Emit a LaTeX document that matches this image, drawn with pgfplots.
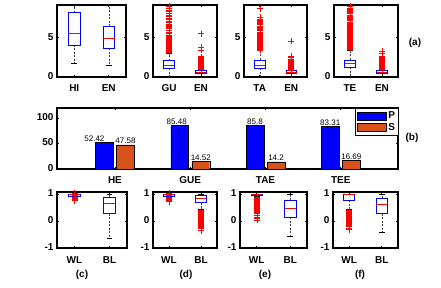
\documentclass[border=0pt]{standalone}
\usepackage{fontspec}
\setmainfont{Liberation Sans}
\usepackage{pgfplots}
\pgfplotsset{compat=1.18}
\usepgfplotslibrary{statistics}
\definecolor{mOrange}{rgb}{0.85,0.325,0.098}
\newcommand{\lf}{\bfseries\fontsize{10}{12}\selectfont}
\pgfplotsset{
  /pgf/number format/assume math mode=true,
  mframe/.style={
    scale only axis, anchor=south west,
    tick align=inside, major tick length=2pt,
    axis line style={line width=1.3pt},
    every tick/.style={black, line width=0.7pt},
    ticklabel style={font=\lf},
    typeset ticklabels with strut,
  },
  bxa/.style={mframe, xmin=0.5, xmax=2.5, xtick={1,2}},
  bxp/.style={
    mark=+, mark size=3pt, mark options={draw=red, line width=0.5pt, solid},
    boxplot/draw direction=y,
    boxplot/box extend=0.34,
    boxplot/whisker extend=0.17,
    boxplot/every box/.style={draw=blue, line width=0.6pt},
    boxplot/every median/.style={draw=red, line width=0.6pt},
    boxplot/draw/lower whisker/.code={%
      \draw[black!75, dash pattern=on 2pt off 1.5pt, line width=0.5pt]
        (boxplot box cs:\pgfplotsboxplotvalue{lower quartile},0.5) --
        (boxplot box cs:\pgfplotsboxplotvalue{lower whisker},0.5);
      \draw[black, line width=0.5pt]
        (boxplot whisker cs:\pgfplotsboxplotvalue{lower whisker},0) --
        (boxplot whisker cs:\pgfplotsboxplotvalue{lower whisker},1);
    },
    boxplot/draw/upper whisker/.code={%
      \draw[black!75, dash pattern=on 2pt off 1.5pt, line width=0.5pt]
        (boxplot box cs:\pgfplotsboxplotvalue{upper quartile},0.5) --
        (boxplot box cs:\pgfplotsboxplotvalue{upper whisker},0.5);
      \draw[black, line width=0.5pt]
        (boxplot whisker cs:\pgfplotsboxplotvalue{upper whisker},0) --
        (boxplot whisker cs:\pgfplotsboxplotvalue{upper whisker},1);
    },
  },
}
\begin{document}
\begin{tikzpicture}
\useasboundingbox (0,0) rectangle (441pt,287pt);
% ---------------- (a) row ----------------
\begin{axis}[bxa, at={(57pt,210pt)}, width=69pt, height=72pt,
  ymin=0, ymax=9.15, ytick={0,5}, xticklabels={HI,EN}, xticklabel style={yshift=-3pt}]
\addplot[bxp, boxplot prepared={draw position=1, lower whisker=1.77, lower quartile=4.08, median=5.55, upper quartile=8.16, upper whisker=9.1}] coordinates {};
\addplot[bxp, boxplot prepared={draw position=2, lower whisker=1.55, lower quartile=3.66, median=4.92, upper quartile=6.48, upper whisker=9.1}] coordinates {};
\end{axis}
\begin{axis}[bxa, at={(153pt,210pt)}, width=64pt, height=72pt,
  ymin=0, ymax=9.15, ytick={0,5}, xticklabels={GU,EN}, xticklabel style={yshift=-3pt}]
\addplot[bxp, boxplot prepared={draw position=1, lower whisker=0.1, lower quartile=1.14, median=1.47, upper quartile=2.06, upper whisker=3.05}]
 table[row sep=\\, y index=0]{v\\3.1\\3.15\\3.2\\3.25\\3.3\\3.35\\3.4\\3.45\\3.5\\3.55\\3.6\\3.65\\3.7\\3.75\\3.8\\3.85\\3.9\\3.95\\4.0\\4.05\\4.1\\4.15\\4.2\\4.25\\4.3\\4.35\\4.4\\4.45\\4.5\\4.55\\4.6\\4.65\\4.7\\4.8\\4.9\\5.0\\5.1\\5.2\\5.35\\5.5\\5.6\\5.75\\5.9\\6.0\\6.15\\6.3\\6.45\\6.6\\6.75\\6.9\\7.1\\7.3\\7.5\\7.7\\7.9\\8.1\\8.3\\8.5\\8.8\\9.0\\};
\addplot[bxp, boxplot prepared={draw position=2, lower whisker=0.05, lower quartile=0.5, median=0.62, upper quartile=0.85, upper whisker=0.95}]
 table[row sep=\\, y index=0]{v\\1.0\\1.05\\1.1\\1.15\\1.2\\1.25\\1.3\\1.35\\1.4\\1.45\\1.5\\1.55\\1.6\\1.65\\1.7\\1.75\\1.8\\1.85\\1.9\\1.95\\2.0\\2.05\\2.1\\2.2\\2.3\\2.4\\2.5\\2.6\\3.45\\3.75\\5.5\\};
\end{axis}
\begin{axis}[bxa, at={(244pt,210pt)}, width=63pt, height=72pt,
  ymin=0, ymax=9.15, ytick={0,5}, xticklabels={TA,EN}, xticklabel style={yshift=-3pt}]
\addplot[bxp, boxplot prepared={draw position=1, lower whisker=0.1, lower quartile=1.13, median=1.55, upper quartile=2.18, upper whisker=3.4}]
 table[row sep=\\, y index=0]{v\\3.45\\3.5\\3.55\\3.6\\3.65\\3.7\\3.75\\3.8\\3.85\\3.9\\3.95\\4.0\\4.05\\4.1\\4.15\\4.2\\4.25\\4.3\\4.35\\4.4\\4.45\\4.5\\4.55\\4.6\\4.65\\4.7\\4.8\\4.9\\5.0\\5.1\\5.2\\5.3\\5.45\\5.6\\5.75\\5.9\\6.05\\6.2\\6.35\\6.5\\6.65\\6.8\\6.95\\7.1\\7.25\\7.4\\7.55\\7.65\\8.7\\};
\addplot[bxp, boxplot prepared={draw position=2, lower whisker=0.05, lower quartile=0.5, median=0.6, upper quartile=0.8, upper whisker=0.88}]
 table[row sep=\\, y index=0]{v\\0.92\\0.97\\1.02\\1.07\\1.12\\1.17\\1.22\\1.27\\1.32\\1.37\\1.42\\1.47\\1.52\\1.57\\1.62\\1.67\\1.72\\1.77\\1.82\\1.87\\1.92\\1.97\\2.02\\2.07\\2.12\\2.2\\2.3\\2.45\\2.6\\2.7\\4.6\\};
\end{axis}
\begin{axis}[bxa, at={(334pt,210pt)}, width=64pt, height=72pt,
  ymin=0, ymax=9.15, ytick={0,5}, xticklabels={TE,EN}, xticklabel style={yshift=-3pt}]
\addplot[bxp, boxplot prepared={draw position=1, lower whisker=0.1, lower quartile=1.26, median=1.68, upper quartile=2.18, upper whisker=3.45}]
 table[row sep=\\, y index=0]{v\\3.5\\3.55\\3.6\\3.65\\3.7\\3.75\\3.8\\3.85\\3.9\\3.95\\4.0\\4.05\\4.1\\4.15\\4.2\\4.25\\4.3\\4.35\\4.4\\4.45\\4.5\\4.6\\4.7\\4.8\\4.9\\5.0\\5.1\\5.2\\5.3\\5.4\\5.5\\5.6\\5.7\\5.8\\5.9\\6.0\\6.1\\6.2\\6.3\\6.4\\6.5\\6.6\\6.7\\6.8\\6.9\\7.0\\7.15\\7.3\\7.45\\7.6\\7.75\\7.9\\8.05\\8.2\\8.35\\8.5\\8.65\\8.8\\9.0\\};
\addplot[bxp, boxplot prepared={draw position=2, lower whisker=0.05, lower quartile=0.5, median=0.6, upper quartile=0.8, upper whisker=0.9}]
 table[row sep=\\, y index=0]{v\\0.95\\1.0\\1.05\\1.1\\1.15\\1.2\\1.25\\1.3\\1.35\\1.4\\1.45\\1.5\\1.55\\1.6\\1.65\\1.7\\1.75\\1.8\\1.85\\1.9\\1.95\\2.0\\2.05\\2.1\\2.15\\2.2\\2.3\\2.4\\2.5\\2.7\\3.0\\3.3\\};
\end{axis}
\node[font=\lf] at (415pt,244pt) {(a)};
% ---------------- (b) bars ----------------
\begin{axis}[mframe, at={(57pt,118pt)}, width=341pt, height=61pt,
  xmin=0.23, xmax=4.76, xtick={1,2,3,4}, xticklabels={HE,GUE,TAE,TEE},
  xticklabel style={yshift=-2.5pt},
  ymin=0, ymax=120, ytick={0,50,100},
  legend image code/.code={\draw[#1, line width=0.4pt] (0pt,-4pt) rectangle (29pt,4pt);},
  legend style={at={(1.003,1.0)}, anchor=north east, font=\lf, draw=black, line width=1pt,
    inner sep=1.5pt, row sep=-1pt, cells={anchor=west}},
]
\addplot[ybar, bar width=0.237, bar shift=0, fill=blue, draw=black, line width=0.4pt,
  nodes near coords, visualization depends on={\thisrow{dx}\as\dx},
  every node near coord/.append style={xshift=\dx pt, font=\fontsize{8}{9}\selectfont, text=black, inner sep=1pt}]
 table[x=x, y=y]{
x y dx
0.86 52.42 -10
1.86 85.48 -3
2.86 85.8 0
3.86 83.31 0
};
\addplot[ybar, bar width=0.237, bar shift=0, fill=mOrange, draw=black, line width=0.4pt,
  nodes near coords,
  every node near coord/.append style={font=\fontsize{8}{9}\selectfont, text=black, inner sep=1pt}]
 table[x=x, y=y]{
x y
1.14 47.58
2.14 14.52
3.14 14.2
4.14 16.69
};
\legend{P,S}
\end{axis}
\node[font=\lf] at (412pt,149pt) {(b)};
% ---------------- (c)-(f) row ----------------
\begin{axis}[bxa, at={(57pt,39pt)}, width=70pt, height=56pt,
  ymin=-1, ymax=1.08, ytick={-1,0,1}, xticklabels={WL,BL}, xticklabel style={yshift=-4pt}]
\addplot[bxp, boxplot prepared={draw position=1, lower whisker=0.91, lower quartile=0.93, median=0.98, upper quartile=1.0, upper whisker=1.0}]
 table[row sep=\\, y index=0]{v\\0.76\\0.79\\0.82\\0.85\\0.88\\0.9\\0.95\\1.0\\1.03\\};
\addplot[bxp, boxplot prepared={draw position=2, lower whisker=-0.62, lower quartile=0.28, median=0.65, upper quartile=0.9, upper whisker=1.0}] coordinates {};
\end{axis}
\begin{axis}[bxa, at={(153pt,39pt)}, width=64pt, height=56pt,
  ymin=-1, ymax=1.08, ytick={-1,0,1}, xticklabels={WL,BL}, xticklabel style={yshift=-4pt}]
\addplot[bxp, boxplot prepared={draw position=1, lower whisker=0.9, lower quartile=0.93, median=0.98, upper quartile=1.0, upper whisker=1.0}]
 table[row sep=\\, y index=0]{v\\0.72\\0.78\\0.81\\0.84\\0.87\\0.9\\0.95\\1.0\\1.03\\};
\addplot[bxp, boxplot prepared={draw position=2, lower whisker=0.45, lower quartile=0.68, median=0.86, upper quartile=0.96, upper whisker=1.0}]
 table[row sep=\\, y index=0]{v\\0.4\\0.37\\0.34\\0.31\\0.28\\0.25\\0.22\\0.19\\0.16\\0.13\\0.1\\0.07\\0.04\\0.01\\-0.02\\-0.05\\-0.08\\-0.11\\-0.14\\-0.17\\-0.2\\-0.23\\-0.27\\-0.35\\};
\end{axis}
\begin{axis}[bxa, at={(240pt,39pt)}, width=67pt, height=56pt,
  ymin=-1, ymax=1.08, ytick={-1,0,1}, xticklabels={WL,BL}, xticklabel style={yshift=-4pt}]
\addplot[bxp, boxplot prepared={draw position=1, lower whisker=0.92, lower quartile=0.95, median=0.99, upper quartile=1.0, upper whisker=1.0}]
 table[row sep=\\, y index=0]{v\\0.9\\0.87\\0.84\\0.81\\0.78\\0.75\\0.72\\0.69\\0.66\\0.63\\0.6\\0.57\\0.54\\0.51\\0.48\\0.45\\0.42\\0.39\\0.36\\0.33\\0.3\\0.28\\0.22\\0.16\\0.1\\0.04\\};
\addplot[bxp, boxplot prepared={draw position=2, lower whisker=-0.55, lower quartile=0.14, median=0.47, upper quartile=0.78, upper whisker=1.0}] coordinates {};
\end{axis}
\begin{axis}[bxa, at={(333pt,39pt)}, width=65pt, height=56pt,
  ymin=-1, ymax=1.08, ytick={-1,0,1}, xticklabels={WL,BL}, xticklabel style={yshift=-4pt}]
\addplot[bxp, boxplot prepared={draw position=1, lower whisker=0.45, lower quartile=0.78, median=1.0, upper quartile=1.0, upper whisker=1.0}]
 table[row sep=\\, y index=0]{v\\0.4\\0.37\\0.34\\0.31\\0.28\\0.25\\0.22\\0.19\\0.16\\0.13\\0.1\\0.07\\0.04\\0.01\\-0.02\\-0.05\\-0.08\\-0.11\\-0.14\\-0.17\\-0.2\\-0.26\\-0.32\\};
\addplot[bxp, boxplot prepared={draw position=2, lower whisker=-0.4, lower quartile=0.28, median=0.62, upper quartile=0.85, upper whisker=1.0}] coordinates {};
\end{axis}
\node[font=\lf] at (82pt,12pt) {(c)};
\node[font=\lf] at (186pt,12pt) {(d)};
\node[font=\lf] at (265pt,12pt) {(e)};
\node[font=\lf] at (360pt,12pt) {(f)};
\end{tikzpicture}
\end{document}
